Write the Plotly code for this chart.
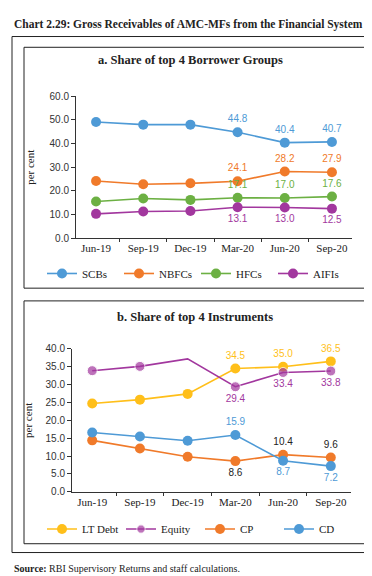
import plotly.graph_objects as go

quarters = ["Jun-19", "Sep-19", "Dec-19", "Mar-20", "Jun-20", "Sep-20"]

# Panel a: share of top 4 borrower groups (per cent)
scbs = [49.1, 48.0, 48.0, 44.8, 40.4, 40.7]
nbfcs = [24.2, 22.8, 23.2, 24.1, 28.2, 27.9]
hfcs = [15.5, 16.8, 16.2, 17.1, 17.0, 17.6]
aifis = [10.3, 11.3, 11.5, 13.1, 13.0, 12.5]

# Panel b: share of top 4 instruments (per cent)
lt_debt = [24.7, 25.8, 27.4, 34.5, 35.0, 36.5]
equity = [33.9, 35.1, 37.2, 29.4, 33.4, 33.8]
cp = [14.4, 12.1, 9.8, 8.6, 10.4, 9.6]
cd = [16.6, 15.5, 14.3, 15.9, 8.7, 7.2]

W, H = 372, 576
def py(y):
    return 1 - y / H
def px(x):
    return x / W

SANS = "Liberation Sans"
SERIF = "Liberation Serif"

def lbl(vals, show=(3, 4, 5)):
    return [f"{v:.1f}" if i in show else "" for i, v in enumerate(vals)]

fig = go.Figure()

def add(name, vals, color, xa, ya, legend, pos, textcolor=None, sizes=None, show=(3, 4, 5)):
    if isinstance(pos, str):
        pos = [pos] * len(vals)
    fig.add_trace(go.Scatter(
        x=quarters, y=vals, name=name, mode="lines+markers+text",
        text=lbl(vals, show), textposition=pos,
        textfont=dict(family=SANS, size=10, color=textcolor or color),
        line=dict(color=color, width=1.6),
        marker=dict(color=color, size=sizes or 10),
        xaxis=xa, yaxis=ya, legend=legend, cliponaxis=False,
    ))

BLUE = "#4e9ad6"
ORANGE = "#f07a2a"
GREEN = "#6cb043"
PURPLE = "#a2379e"
GOLD = "#ffbf1a"

add("SCBs", scbs, BLUE, "x", "y", "legend", "top center")
add("NBFCs", nbfcs, ORANGE, "x", "y", "legend", "top center")
add("HFCs", hfcs, GREEN, "x", "y", "legend", "top center")
add("AIFIs", aifis, PURPLE, "x", "y", "legend", "bottom center")

add("LT Debt", lt_debt, GOLD, "x2", "y2", "legend2", "top center")
add("Equity", equity, PURPLE, "x2", "y2", "legend2", "bottom center", sizes=[10, 10, 0, 10, 10, 10])
add("CP", cp, ORANGE, "x2", "y2", "legend2",
    ["top center", "top center", "top center", "bottom center", "top center", "top center"], textcolor="#222222")
add("CD", cd, BLUE, "x2", "y2", "legend2",
    ["top center", "top center", "top center", "top center", "bottom center", "bottom center"])

axis_common = dict(showline=True, linecolor="#333333", linewidth=1, ticks="outside",
                   tickcolor="#333333", showgrid=False, zeroline=False)

fig.update_layout(
    width=W, height=H, margin=dict(l=0, r=0, t=0, b=0),
    paper_bgcolor="white", plot_bgcolor="white", showlegend=True,
    xaxis=dict(domain=[px(68), px(344)], anchor="y", type="category", tickson="boundaries",
               ticklen=3, tickfont=dict(family=SERIF, size=11, color="#222222"), **axis_common),
    yaxis=dict(domain=[py(229), py(84)], anchor="x", range=[0, 60], dtick=10, tickformat=".1f",
               ticklen=4, tickfont=dict(family=SANS, size=10, color="#333333"),
               title=dict(text="per cent", font=dict(family=SERIF, size=11, color="#222222"), standoff=12),
               **axis_common),
    xaxis2=dict(domain=[px(64), px(343)], anchor="y2", type="category", tickson="boundaries",
                ticklen=3, tickfont=dict(family=SERIF, size=11, color="#222222"), **axis_common),
    yaxis2=dict(domain=[py(488), py(342)], anchor="x2", range=[0, 40], dtick=5, tickformat=".1f",
                ticklen=4, tickfont=dict(family=SANS, size=10, color="#333333"),
                title=dict(text="per cent", font=dict(family=SERIF, size=11, color="#222222"), standoff=10),
                **axis_common),
    legend=dict(orientation="h", x=px(34), y=py(265), xanchor="left", yanchor="middle",
                entrywidth=32, font=dict(family=SERIF, size=11, color="#222222"),
                bgcolor="rgba(0,0,0,0)", itemclick=False),
    legend2=dict(orientation="h", x=px(34), y=py(526), xanchor="left", yanchor="middle",
                 entrywidth=34, font=dict(family=SERIF, size=11, color="#222222"),
                 bgcolor="rgba(0,0,0,0)", itemclick=False),
)

shapes = [
    dict(type="rect", xref="paper", yref="paper", x0=px(4), x1=px(367), y0=py(550), y1=py(23),
         line=dict(color="#222222", width=1)),
    dict(type="rect", xref="paper", yref="paper", x0=px(16), x1=px(357), y0=py(280), y1=py(34),
         line=dict(color="#222222", width=1)),
    dict(type="rect", xref="paper", yref="paper", x0=px(16), x1=px(357), y0=py(541), y1=py(293),
         line=dict(color="#222222", width=1)),
]
fig.update_layout(shapes=shapes)

anns = [
    dict(text="<b>Chart 2.29: Gross Receivables of AMC-MFs from the Financial System</b>",
         x=px(4), y=py(11), xanchor="left", yanchor="middle",
         font=dict(family=SERIF, size=11.5, color="#222222")),
    dict(text="<b>a. Share of top 4 Borrower Groups</b>", x=px(182), y=py(47),
         xanchor="center", yanchor="middle", font=dict(family=SERIF, size=12.5, color="#222222")),
    dict(text="<b>b. Share of top 4 Instruments</b>", x=px(187), y=py(309),
         xanchor="center", yanchor="middle", font=dict(family=SERIF, size=12.5, color="#222222")),
    dict(text="<b>Source:</b> RBI Supervisory Returns and staff calculations.", x=px(4), y=py(566),
         xanchor="left", yanchor="middle", font=dict(family=SERIF, size=10, color="#222222")),
]
for a in anns:
    a.update(xref="paper", yref="paper", showarrow=False)
fig.update_layout(annotations=anns)

fig.write_html("out.html")
